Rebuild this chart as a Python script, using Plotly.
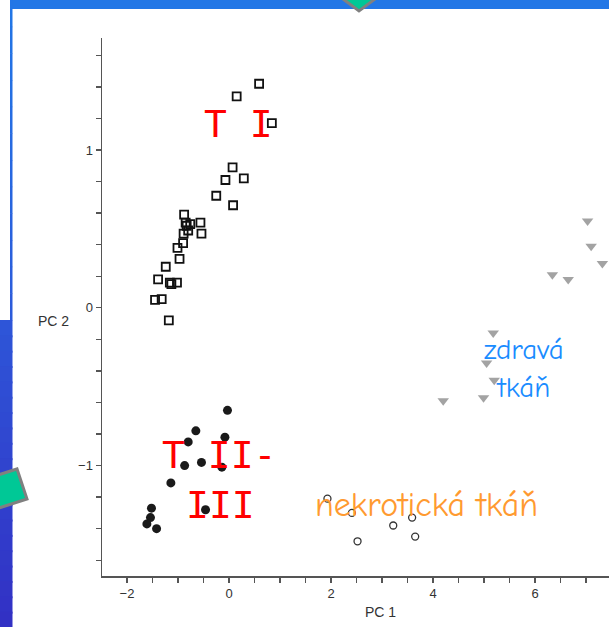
import plotly.graph_objects as go

# ---------------- data ----------------
ti_x = [0.59, 0.15, 0.84, 0.07, -0.07, 0.29, -0.25, 0.08, -0.88, -0.85, -0.76, -0.56,
        -0.80, -0.54, -0.89, -0.90, -1.01, -0.97, -1.24, -1.39, -1.16, -1.13, -1.02,
        -1.45, -1.32, -1.18, -0.83]
ti_y = [1.42, 1.34, 1.17, 0.89, 0.81, 0.82, 0.71, 0.65, 0.59, 0.54, 0.53, 0.54,
        0.49, 0.47, 0.47, 0.41, 0.38, 0.31, 0.26, 0.18, 0.16, 0.15, 0.16,
        0.05, 0.055, -0.08, 0.52]

tii_x = [-0.03, -0.65, -0.80, -0.08, -0.87, -0.54, -0.14, -1.14, -0.46, -1.52, -1.54, -1.61, -1.42]
tii_y = [-0.65, -0.78, -0.85, -0.82, -1.00, -0.98, -1.01, -1.11, -1.28, -1.27, -1.33, -1.37, -1.40]

nec_x = [1.93, 2.41, 2.52, 3.22, 3.59, 3.65]
nec_y = [-1.21, -1.30, -1.48, -1.38, -1.33, -1.45]

healthy_x = [7.03, 7.10, 7.32, 6.34, 6.65, 5.18, 5.05, 5.20, 4.99, 4.20]
healthy_y = [0.55, 0.39, 0.28, 0.21, 0.18, -0.16, -0.35, -0.46, -0.57, -0.59]

x_tickvals = [-2, 0, 2, 4, 6]
y_tickvals = [-1, 0, 1]

label_ti = "T I"
label_tii_1 = "T II-"
label_tii_2 = "III"
label_healthy = "zdravá<br>tkáň"
label_necrotic = "nekrotická tkáň"
x_title = "PC 1"
y_title = "PC 2"

# ---------------- layout geometry ----------------
W, H = 609, 627
L, R, T, B = 102, 0, 38, 51
PW, PH = W - L - R, H - T - B


def PX(px):
    return (px - L) / PW


def PY(py):
    return (H - B - py) / PH


fig = go.Figure()

fig.add_trace(go.Scatter(
    x=healthy_x, y=healthy_y, mode="markers",
    marker=dict(symbol="triangle-down", size=10, color="#a3a3a3", line=dict(width=0)),
    showlegend=False, hoverinfo="skip"))
fig.add_trace(go.Scatter(
    x=ti_x, y=ti_y, mode="markers",
    marker=dict(symbol="square-open", size=8, color="#111111", line=dict(width=1.8, color="#111111")),
    showlegend=False, hoverinfo="skip"))
fig.add_trace(go.Scatter(
    x=tii_x, y=tii_y, mode="markers",
    marker=dict(symbol="circle", size=9, color="#1a1a1a", line=dict(width=0)),
    showlegend=False, hoverinfo="skip"))
fig.add_trace(go.Scatter(
    x=nec_x, y=nec_y, mode="markers",
    marker=dict(symbol="circle-open", size=7, color="#333333", line=dict(width=1.3, color="#333333")),
    showlegend=False, hoverinfo="skip"))

axis_common = dict(
    showgrid=False, zeroline=False, showline=True, linecolor="#555555", linewidth=1.5,
    ticks="outside", ticklen=5, tickwidth=1.3, tickcolor="#555555",
    tickfont=dict(family="Liberation Sans, Arial, sans-serif", size=13, color="#333333"),
)
fig.update_xaxes(range=[-2.49, 7.45], tickvals=x_tickvals,
                 minor=dict(dtick=0.5, tick0=0, ticks="outside", ticklen=5, tickwidth=1.3, tickcolor="#555555"),
                 **axis_common)
fig.update_yaxes(range=[-1.70, 1.71], tickvals=y_tickvals,
                 minor=dict(dtick=0.2, tick0=0, ticks="outside", ticklen=5, tickwidth=1.3, tickcolor="#555555"),
                 **axis_common)

# ---------------- slide decoration ----------------
shapes = []
# top blue band
shapes.append(dict(type="rect", xref="paper", yref="paper", x0=PX(10), x1=PX(W + 2), y0=PY(-2), y1=PY(9),
                   fillcolor="rgb(34,119,230)", line=dict(width=0), layer="above"))


def lerp(a, b, t):
    return tuple(round(a[i] + (b[i] - a[i]) * t) for i in range(3))


# thin left line with gradient
n = 12
c0, c1 = (34, 119, 230), (44, 90, 218)
for i in range(n):
    y0 = i * 320 / n
    y1 = (i + 1) * 320 / n
    c = lerp(c0, c1, (i + 0.5) / n)
    shapes.append(dict(type="rect", xref="paper", yref="paper", x0=PX(10), x1=PX(12.5), y0=PY(y0 - (2 if i == 0 else 0)), y1=PY(y1 + 0.5),
                       fillcolor="rgb(%d,%d,%d)" % c, line=dict(width=0), layer="above"))
# lower left block with gradient
n = 20
c0, c1 = (46, 86, 216), (50, 48, 196)
for i in range(n):
    y0 = 320 + i * (H - 320) / n
    y1 = 320 + (i + 1) * (H - 320) / n
    c = lerp(c0, c1, (i + 0.5) / n)
    shapes.append(dict(type="rect", xref="paper", yref="paper", x0=PX(-2), x1=PX(12.5), y0=PY(y0), y1=PY(y1 + 2),
                       fillcolor="rgb(%d,%d,%d)" % c, line=dict(width=0), layer="above"))


def poly(pts):
    p = "M " + " L ".join("%.5f,%.5f" % (PX(a), PY(b)) for a, b in pts) + " Z"
    return p


# green rotated square at left
shapes.append(dict(type="path", xref="paper", yref="paper",
                   path=poly([(-30, 484), (17, 469), (27, 499), (-20, 514)]),
                   fillcolor="#00c896", line=dict(color="#808080", width=3), layer="above"))
# green diamond at top
shapes.append(dict(type="path", xref="paper", yref="paper",
                   path=poly([(359, -20), (379, -4), (359, 11), (339, -4)]),
                   fillcolor="#00c896", line=dict(color="#808080", width=3), layer="above"))

annotations = []


def ann(text, cx, cy, size, color, family):
    annotations.append(dict(text=text, x=PX(cx), y=PY(cy), xref="paper", yref="paper",
                            xanchor="center", yanchor="middle", showarrow=False,
                            font=dict(size=size, color=color, family=family)))


mono = "Comic Sans MS, DejaVu Sans Mono, monospace"
comic = "Comic Sans MS, Comic Neue, DejaVu Sans, sans-serif"
ann(label_ti, 238, 124, 38, "#ff0000", mono)
ann(label_tii_1, 219, 455, 38, "#ff0000", mono)
ann(label_tii_2, 220, 505, 38, "#ff0000", mono)
ann(label_healthy, 524, 368, 29, "#1a8cff", comic)
ann(label_necrotic, 426, 505, 34, "#ff9a30", comic)
ann(x_title, 380, 612, 14, "#333333", "Liberation Sans, Arial, sans-serif")
ann(y_title, 53, 321, 14, "#333333", "Liberation Sans, Arial, sans-serif")

fig.update_layout(
    width=W, height=H, margin=dict(l=L, r=R, t=T, b=B, pad=0),
    paper_bgcolor="white", plot_bgcolor="white",
    shapes=shapes, annotations=annotations, showlegend=False,
)

fig.write_html("out.html", config={"displayModeBar": False, "staticPlot": True},
               post_script="document.body.style.margin='0';document.body.style.padding='0';")
